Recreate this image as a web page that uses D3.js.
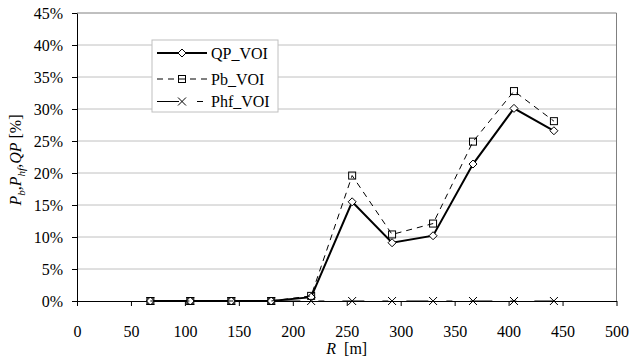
<!DOCTYPE html>
<html>
<head>
<meta charset="utf-8">
<title>QP / Pb / Phf VOI</title>
<script src="https://d3js.org/d3.v7.min.js"></script>
<style>
  body { margin: 0; background: #fff; }
</style>
</head>
<body>
<script>
// data
var radius = [68, 105, 143, 180, 217, 255, 292, 330, 367, 405, 442];
var qpVoi  = [0, 0, 0, 0, 0.6, 15.5, 9.1, 10.2, 21.4, 30.1, 26.6];
var pbVoi  = [0, 0, 0, 0, 0.8, 19.6, 10.4, 12.1, 24.9, 32.8, 28.1];
var phfVoi = [0, 0, 0, 0, 0, 0, 0, 0, 0, 0, 0];
var xTicks = [0, 50, 100, 150, 200, 250, 300, 350, 400, 450, 500];
var yTicks = [0, 5, 10, 15, 20, 25, 30, 35, 40, 45];

var FONT = "'Times New Roman'";

var W = 631, H = 358;
var margin = {top: 13, right: 14.5, bottom: 57, left: 77};
var w = W - margin.left - margin.right,
    h = H - margin.top - margin.bottom;

var svg = d3.select("body").append("svg")
    .attr("width", W)
    .attr("height", H);

var g = svg.append("g")
    .attr("transform", "translate(" + margin.left + "," + margin.top + ")");

var x = d3.scaleLinear().domain([0, 500]).range([0, w]);
var y = d3.scaleLinear().domain([0, 45]).range([h, 0]);

// gridlines
g.selectAll(".grid").data(yTicks.slice(1, -1)).enter()
  .append("line")
    .attr("x1", 0).attr("x2", w)
    .attr("y1", function(d) { return y(d); })
    .attr("y2", function(d) { return y(d); })
    .attr("stroke", "#c0c0c0")
    .attr("stroke-width", 1);

// plot border top / right
g.append("path")
  .attr("d", "M0," + y(45) + "H" + w + "V" + h)
  .attr("fill", "none")
  .attr("stroke", "#808080")
  .attr("stroke-width", 1);

// axes
var xAxis = g.append("g")
    .attr("transform", "translate(0," + h + ")")
    .call(d3.axisBottom(x).tickValues(xTicks).tickSize(5).tickPadding(20).tickSizeOuter(0));
var yAxis = g.append("g")
    .call(d3.axisLeft(y).tickValues(yTicks).tickSize(5).tickPadding(9).tickSizeOuter(0)
      .tickFormat(function(d) { return d + "%"; }));

[xAxis, yAxis].forEach(function(a) {
  a.attr("font-family", null).attr("font-size", null);
  a.select(".domain").attr("stroke", "#000");
  a.selectAll(".tick line").attr("stroke", "#000");
  a.selectAll("text").attr("fill", "#000");
});

// axis titles
var xt = svg.append("text")
    .attr("x", margin.left + w / 2)
    .attr("y", 354)
    .attr("text-anchor", "middle");
xt.append("tspan").attr("font-style", "italic").text("R");
xt.append("tspan").text("\u00a0 [m]");

var yt = svg.append("text")
    .attr("transform", "translate(21,160) rotate(-90)")
    .attr("text-anchor", "middle");
yt.append("tspan").attr("font-style", "italic").text("P");
yt.append("tspan").attr("font-style", "italic").style("font-size", "11px").attr("dy", 4).text("b");
yt.append("tspan").attr("dy", -4).text(",");
yt.append("tspan").attr("font-style", "italic").text("P");
yt.append("tspan").attr("font-style", "italic").style("font-size", "11px").attr("dy", 4).text("hf");
yt.append("tspan").attr("dy", -4).text(",");
yt.append("tspan").attr("font-style", "italic").text("QP");
yt.append("tspan").text("\u00a0[%]");

// series
var series = [
  {name: "QP_VOI",  values: qpVoi,  width: 2, dash: null,   marker: "diamond"},
  {name: "Pb_VOI",  values: pbVoi,  width: 1, dash: "6,5",  marker: "square"},
  {name: "Phf_VOI", values: phfVoi, width: 1, dash: "22,18,6,18", marker: "cross"}
];

function drawMarker(sel, type) {
  if (type === "diamond") {
    sel.append("path").attr("d", "M0,-4L4,0L0,4L-4,0Z")
      .attr("fill", "#fff").attr("stroke", "#000").attr("stroke-width", 1);
  } else if (type === "square") {
    sel.append("rect").attr("x", -3.5).attr("y", -3.5).attr("width", 7).attr("height", 7)
      .attr("fill", "none").attr("stroke", "#000").attr("stroke-width", 1);
  } else {
    sel.append("path").attr("d", "M-4,-4L4,4M-4,4L4,-4")
      .attr("fill", "none").attr("stroke", "#000").attr("stroke-width", 1);
  }
}

var line = d3.line()
    .x(function(d, i) { return x(radius[i]); })
    .y(function(d) { return y(d); });

// draw order: Phf, QP, Pb
[series[2], series[0], series[1]].forEach(function(s) {
  g.append("path")
    .datum(s.values)
    .attr("d", line)
    .attr("fill", "none")
    .attr("stroke", "#000")
    .attr("stroke-width", s.width)
    .attr("stroke-dasharray", s.dash);
  g.selectAll(null).data(s.values).enter()
    .append("g")
      .attr("transform", function(d, i) { return "translate(" + x(radius[i]) + "," + y(d) + ")"; })
      .each(function() { drawMarker(d3.select(this), s.marker); });
});

// legend
var legend = svg.append("g");
legend.append("rect")
  .attr("x", 152).attr("y", 40).attr("width", 126).attr("height", 72)
  .attr("fill", "#fff").attr("stroke", "#c0c0c0").attr("stroke-width", 1);

var rowY = [53, 79, 101.5];
series.forEach(function(s, i) {
  var row = legend.append("g").attr("transform", "translate(0," + rowY[i] + ")");
  row.append("line")
    .attr("x1", 157).attr("x2", 207).attr("y1", 0).attr("y2", 0)
    .attr("stroke", "#000").attr("stroke-width", s.width)
    .attr("stroke-dasharray", s.dash);
  drawMarker(row.append("g").attr("transform", "translate(182,0)"), s.marker);
  row.append("text")
    .attr("x", 211).attr("y", 5.5)
    .text(s.name);
});

// every text: same face and size, set inline
svg.selectAll("text")
  .style("font-family", FONT)
  .style("font-size", "16px");
</script>
</body>
</html>
